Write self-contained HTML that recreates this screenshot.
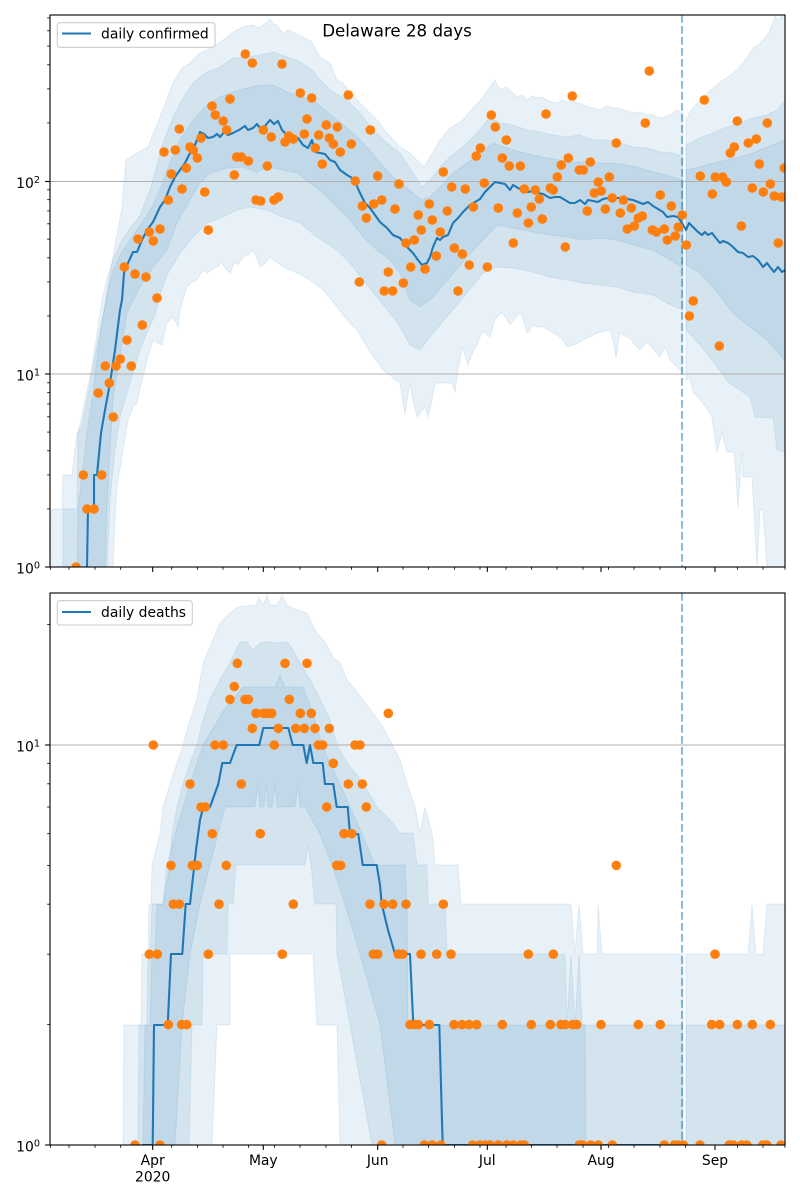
<!DOCTYPE html>
<html><head><meta charset="utf-8"><style>
html,body{margin:0;padding:0;background:#fff;}
svg{display:block;font-family:"DejaVu Sans","Liberation Sans",sans-serif;}
</style></head><body>
<svg width="800" height="1200" viewBox="0 0 800 1200" xmlns="http://www.w3.org/2000/svg">
<defs>
<clipPath id="ct"><rect x="50" y="15" width="735" height="552"/></clipPath>
<clipPath id="cb"><rect x="50" y="593" width="735" height="552"/></clipPath>
</defs>
<rect width="800" height="1200" fill="#fff"/>

<!-- ================= TOP AXES ================= -->
<g clip-path="url(#ct)">
<g fill="#1f77b4" fill-opacity="0.1" stroke="#1f77b4" stroke-opacity="0.1" stroke-width="1">
<!-- outer past -->
<polygon points="50,567 51,509 62,509 63,475 72,475 77,433 82,425 88,395 93,366 100,330 106,300 110,273 116,240 122,207 126,160 137,153 148,147 160,117 173,83 182,68 190,63 200,53 213,47 227,37 233,32 243,27 253,25 258,28 263,25 267,22 270,19 273,24 277,25 283,33 288,30 293,32 298,35 303,37 312,42 316,50 320,57 330,63 337,80 343,83 348,90 357,100 367,110 377,120 387,133 400,147 410,153 420,163 424,167 430,157 440,140 450,128 463,120 473,108 483,97 490,87 495,80 500,90 507,87 513,93 517,97 522,95 527,100 532,96 537,98 542,97 547,100 552,102 557,103 562,100 567,102 572,99 577,103 582,104 587,107 593,108 600,110 607,106 613,108 618,108 623,110 628,111 633,113 640,112 647,115 652,114 657,117 662,118 667,116 672,114 677,110 680,112 683,113 683,373 677,367 672,362 670,360 665,347 660,357 653,349 647,342 640,350 635,345 630,338 625,336 620,333 618,345 616,358 613,340 610,330 605,331 600,332 595,334 590,337 585,339 580,342 573,345 567,347 563,340 560,337 553,333 548,330 543,327 538,327 533,325 530,330 527,333 523,318 520,313 515,318 510,325 506,318 502,313 498,316 495,320 492,330 490,338 486,333 482,332 478,343 473,352 468,365 465,355 462,347 458,370 455,392 452,383 445,383 435,383 432,400 428,417 425,407 421,412 417,417 413,400 410,383 407,400 405,415 402,395 400,383 393,378 390,375 383,370 378,362 373,357 368,348 363,340 357,330 350,323 343,315 337,307 330,298 323,290 317,285 310,280 303,276 297,273 290,270 283,267 277,262 273,260 270,257 266,262 263,265 260,267 257,258 253,250 248,255 243,257 238,265 235,262 230,273 225,268 222,263 217,267 212,270 207,273 203,270 197,280 192,282 187,287 183,300 180,310 178,327 175,320 173,317 170,320 167,323 164,335 162,345 158,343 153,340 150,350 147,360 142,380 137,403 133,407 128,420 123,450 117,487 115,517 113,567"/>
<!-- outer forecast -->
<polygon points="686,120 690,112 693,108 698,103 703,97 708,93 713,88 718,84 723,80 728,77 733,73 738,69 743,63 748,56 753,48 758,45 763,40 767,35 770,30 773,22 775,16 778,20 781,17 785,15 785,567 767,567 763,510 760,510 757,567 752,477 743,477 742,452 738,508 735,460 733,452 727,452 722,433 717,452 712,417 708,410 703,403 698,397 693,392 690,378 686,380"/>
<!-- middle past -->
<polygon points="63,567 63,509 77,509 78,433 85,400 92,367 97,333 102,300 108,275 115,255 122,240 130,228 137,220 140,215 150,190 157,165 163,143 173,117 182,100 193,83 207,72 220,67 233,58 247,57 260,55 273,52 287,57 300,62 312,70 320,80 333,92 347,100 360,113 373,130 387,143 400,153 413,173 422,187 430,180 440,167 450,157 463,147 477,133 490,117 500,123 513,125 527,130 540,132 553,135 567,137 580,135 593,140 607,140 620,143 633,147 647,148 660,152 673,153 683,157 683,310 667,303 653,295 633,292 617,287 600,285 583,283 567,280 550,277 533,272 513,268 497,267 483,273 467,293 450,313 433,333 420,350 410,345 400,327 390,313 377,297 363,280 350,263 337,250 317,237 300,223 283,217 267,210 250,207 237,210 223,217 207,223 193,237 180,253 167,275 160,295 155,315 148,330 140,350 130,383 120,417 115,450 110,500 107,567"/>
<!-- middle forecast -->
<polygon points="686,145 700,138 713,133 727,127 740,123 753,118 767,115 777,110 785,100 785,452 777,450 773,418 755,417 750,397 728,382 712,360 700,345 686,330"/>
<!-- inner past -->
<polygon points="77,567 78,509 87,433 93,393 98,350 103,317 107,295 113,270 120,255 128,243 137,230 147,215 153,205 160,190 167,170 180,140 193,120 207,105 220,97 233,92 247,88 260,85 273,85 287,92 300,97 313,100 327,112 340,122 353,133 367,147 380,163 393,177 400,182 413,193 422,200 430,197 440,187 453,173 467,163 480,153 493,143 507,148 520,152 533,155 547,158 560,160 573,162 587,162 600,163 613,163 627,165 640,168 653,172 667,175 683,180 683,268 667,258 653,250 633,245 617,240 600,238 583,240 567,237 550,235 533,232 513,228 497,225 483,240 467,257 450,277 433,297 420,307 410,300 400,273 390,260 377,250 363,237 350,220 337,207 323,193 310,183 297,173 283,170 267,167 257,172 243,167 227,168 210,173 200,183 190,200 177,223 167,250 153,267 140,287 127,313 117,373 113,400 110,450 107,509 105,567"/>
<!-- inner forecast -->
<polygon points="686,170 700,167 713,163 727,160 740,157 753,153 767,147 785,140 785,361 767,340 750,327 733,313 717,292 700,273 686,265"/>
</g>
<!-- grid -->
<line x1="50" y1="181.5" x2="785" y2="181.5" stroke="#b0b0b0" stroke-width="1.1"/>
<line x1="50" y1="374" x2="785" y2="374" stroke="#b0b0b0" stroke-width="1.1"/>
<!-- median -->
<polyline fill="none" stroke="#1f77b4" stroke-width="2.08" stroke-linejoin="round" points="87,567 88,509 94,509 94,475 97,475 101,433 105,410 110,383 115,350 120,310 122,300 124,273 128,263 133,252 137,252 142,240 147,230 153,222 160,207 165,200 170,187 175,177 180,170 185,163 190,153 195,145 200,132 204,134 208,138 213,137 217,134 220,137 224,132 228,135 233,133 239,130 245,126 248,130 253,128 257,124 260,128 265,126 270,120 274,124 278,121 282,130 285,133 290,135 293,137 298,138 303,145 308,148 312,140 315,152 320,153 325,154 330,160 335,162 340,170 347,175 352,178 355,182 360,193 365,203 370,208 375,215 380,222 387,228 393,235 400,238 407,247 413,253 418,260 422,265 427,263 430,257 433,247 437,238 440,240 443,237 448,235 453,223 458,218 463,212 470,205 475,202 480,199 485,192 490,187 495,182 500,183 505,184 510,190 513,185 518,188 523,190 528,192 533,191 538,193 543,194 550,198 555,197 560,197 565,200 570,203 575,203 580,200 585,204 588,200 593,201 598,202 603,199 608,198 613,198 620,198 627,199 633,200 638,202 643,204 648,202 653,206 658,209 663,212 667,217 673,216 678,217 682,223 686,230 689,223 693,227 698,232 702,235 705,232 708,235 712,233 715,237 720,243 723,241 728,243 733,247 738,252 743,253 748,257 753,256 758,260 763,267 767,263 770,267 774,272 778,267 782,272 785,270"/>
<!-- vline -->
<line x1="682" y1="15" x2="682" y2="567" stroke="#1f77b4" stroke-opacity="0.5" stroke-width="2.08" stroke-dasharray="7.7 3.3"/>
<!-- dots -->
<g fill="#ff7f0e">
<circle cx="76" cy="567" r="4.8"/><circle cx="83.3" cy="475" r="4.8"/><circle cx="87" cy="509" r="4.8"/><circle cx="94" cy="509" r="4.8"/><circle cx="98.3" cy="393" r="4.8"/><circle cx="101.7" cy="475" r="4.8"/><circle cx="105.3" cy="366" r="4.8"/><circle cx="109.3" cy="383" r="4.8"/><circle cx="113.3" cy="417" r="4.8"/><circle cx="116" cy="366" r="4.8"/><circle cx="120.3" cy="359" r="4.8"/><circle cx="124.3" cy="267" r="4.8"/><circle cx="127" cy="340" r="4.8"/><circle cx="131.3" cy="366" r="4.8"/><circle cx="135" cy="274" r="4.8"/><circle cx="138" cy="239" r="4.8"/><circle cx="142.3" cy="325" r="4.8"/><circle cx="146" cy="277" r="4.8"/><circle cx="149.3" cy="232" r="4.8"/><circle cx="153.3" cy="241" r="4.8"/><circle cx="157" cy="298" r="4.8"/><circle cx="160" cy="229" r="4.8"/><circle cx="164" cy="152" r="4.8"/><circle cx="168.3" cy="200" r="4.8"/><circle cx="171.3" cy="174" r="4.8"/><circle cx="175.3" cy="150" r="4.8"/><circle cx="179.3" cy="129" r="4.8"/><circle cx="182" cy="189" r="4.8"/><circle cx="186.3" cy="168" r="4.8"/><circle cx="190" cy="147" r="4.8"/><circle cx="193.3" cy="150" r="4.8"/><circle cx="197.3" cy="158" r="4.8"/><circle cx="201" cy="138" r="4.8"/><circle cx="204.7" cy="192" r="4.8"/><circle cx="208.3" cy="230" r="4.8"/><circle cx="212" cy="106" r="4.8"/><circle cx="215.3" cy="115" r="4.8"/><circle cx="223.3" cy="121" r="4.8"/><circle cx="226.7" cy="130" r="4.8"/><circle cx="230" cy="99" r="4.8"/><circle cx="234.3" cy="175" r="4.8"/><circle cx="236.7" cy="157" r="4.8"/><circle cx="241.3" cy="157" r="4.8"/><circle cx="245.3" cy="54" r="4.8"/><circle cx="248.3" cy="161" r="4.8"/><circle cx="252.3" cy="63" r="4.8"/><circle cx="256" cy="200" r="4.8"/><circle cx="260.7" cy="201" r="4.8"/><circle cx="263.3" cy="130" r="4.8"/><circle cx="267.3" cy="166" r="4.8"/><circle cx="271.3" cy="137" r="4.8"/><circle cx="274" cy="200" r="4.8"/><circle cx="278.3" cy="197" r="4.8"/><circle cx="282" cy="64" r="4.8"/><circle cx="285" cy="142" r="4.8"/><circle cx="288.7" cy="136" r="4.8"/><circle cx="293.3" cy="139" r="4.8"/><circle cx="300.3" cy="93" r="4.8"/><circle cx="304.3" cy="134" r="4.8"/><circle cx="307" cy="119" r="4.8"/><circle cx="311.7" cy="98" r="4.8"/><circle cx="315.3" cy="148" r="4.8"/><circle cx="318.7" cy="135" r="4.8"/><circle cx="322.3" cy="164" r="4.8"/><circle cx="326.3" cy="125" r="4.8"/><circle cx="329.3" cy="138" r="4.8"/><circle cx="333.3" cy="144" r="4.8"/><circle cx="337.3" cy="127" r="4.8"/><circle cx="340.3" cy="152" r="4.8"/><circle cx="348.3" cy="95" r="4.8"/><circle cx="351.3" cy="144" r="4.8"/><circle cx="355.3" cy="181" r="4.8"/><circle cx="359.3" cy="282" r="4.8"/><circle cx="362.3" cy="206" r="4.8"/><circle cx="366.3" cy="218" r="4.8"/><circle cx="370.3" cy="130" r="4.8"/><circle cx="373.7" cy="204" r="4.8"/><circle cx="377.7" cy="176" r="4.8"/><circle cx="381.7" cy="200" r="4.8"/><circle cx="384.3" cy="291" r="4.8"/><circle cx="388.3" cy="272" r="4.8"/><circle cx="392.7" cy="291" r="4.8"/><circle cx="395" cy="209" r="4.8"/><circle cx="399" cy="184" r="4.8"/>
<circle cx="403.3" cy="283" r="4.8"/><circle cx="406" cy="243" r="4.8"/><circle cx="410.7" cy="267" r="4.8"/><circle cx="414.3" cy="240" r="4.8"/><circle cx="418.3" cy="215" r="4.8"/><circle cx="421.3" cy="230" r="4.8"/><circle cx="425" cy="269" r="4.8"/><circle cx="429.3" cy="204" r="4.8"/><circle cx="432.3" cy="220" r="4.8"/><circle cx="436.3" cy="256" r="4.8"/><circle cx="440.3" cy="232" r="4.8"/><circle cx="443.3" cy="172" r="4.8"/><circle cx="447.3" cy="211" r="4.8"/><circle cx="451.7" cy="187" r="4.8"/><circle cx="454.3" cy="248" r="4.8"/><circle cx="458" cy="291" r="4.8"/><circle cx="462.3" cy="254" r="4.8"/><circle cx="465.3" cy="189" r="4.8"/><circle cx="469.3" cy="265" r="4.8"/><circle cx="473.3" cy="207" r="4.8"/><circle cx="476.3" cy="156" r="4.8"/><circle cx="480.3" cy="148" r="4.8"/><circle cx="484.3" cy="183" r="4.8"/><circle cx="487.3" cy="267" r="4.8"/><circle cx="491.3" cy="115" r="4.8"/><circle cx="495.3" cy="127" r="4.8"/><circle cx="498.3" cy="208" r="4.8"/><circle cx="502.3" cy="158" r="4.8"/><circle cx="506.3" cy="140" r="4.8"/><circle cx="509.3" cy="166" r="4.8"/><circle cx="513.3" cy="243" r="4.8"/><circle cx="517.3" cy="213" r="4.8"/><circle cx="520.3" cy="166" r="4.8"/><circle cx="524.3" cy="189" r="4.8"/><circle cx="528.3" cy="223" r="4.8"/><circle cx="531.3" cy="207" r="4.8"/><circle cx="535.3" cy="190" r="4.8"/><circle cx="539.3" cy="199" r="4.8"/><circle cx="542.3" cy="219" r="4.8"/><circle cx="546" cy="114" r="4.8"/><circle cx="550.3" cy="188" r="4.8"/><circle cx="553.3" cy="190" r="4.8"/><circle cx="557.3" cy="177" r="4.8"/><circle cx="561.3" cy="165" r="4.8"/><circle cx="565.3" cy="247" r="4.8"/><circle cx="568.3" cy="158" r="4.8"/><circle cx="572.3" cy="96" r="4.8"/><circle cx="579.3" cy="170" r="4.8"/><circle cx="583.3" cy="170" r="4.8"/><circle cx="587.3" cy="211" r="4.8"/><circle cx="590.3" cy="162" r="4.8"/><circle cx="594.3" cy="193" r="4.8"/><circle cx="598.3" cy="182" r="4.8"/><circle cx="601.3" cy="191" r="4.8"/><circle cx="605.3" cy="209" r="4.8"/><circle cx="609.3" cy="177" r="4.8"/><circle cx="612.3" cy="198" r="4.8"/><circle cx="616.3" cy="143" r="4.8"/><circle cx="620.3" cy="213" r="4.8"/><circle cx="623.3" cy="200" r="4.8"/><circle cx="627.3" cy="229" r="4.8"/><circle cx="631.3" cy="208" r="4.8"/><circle cx="634.3" cy="226" r="4.8"/><circle cx="638.3" cy="218" r="4.8"/><circle cx="642.3" cy="216" r="4.8"/><circle cx="645.3" cy="123" r="4.8"/><circle cx="649.3" cy="71" r="4.8"/><circle cx="652.3" cy="230" r="4.8"/><circle cx="656.3" cy="232" r="4.8"/><circle cx="660.3" cy="195" r="4.8"/><circle cx="664.3" cy="229" r="4.8"/><circle cx="667.3" cy="240" r="4.8"/><circle cx="671.3" cy="206" r="4.8"/><circle cx="675.3" cy="236" r="4.8"/><circle cx="678.3" cy="227" r="4.8"/><circle cx="682.3" cy="215" r="4.8"/><circle cx="686.3" cy="245" r="4.8"/><circle cx="689.3" cy="316" r="4.8"/><circle cx="693.3" cy="301" r="4.8"/><circle cx="700.3" cy="176" r="4.8"/><circle cx="704.3" cy="100" r="4.8"/><circle cx="712.3" cy="194" r="4.8"/><circle cx="715.3" cy="177" r="4.8"/><circle cx="719.3" cy="346" r="4.8"/><circle cx="722.7" cy="177" r="4.8"/><circle cx="726.3" cy="182" r="4.8"/><circle cx="730.3" cy="153" r="4.8"/><circle cx="734.3" cy="147" r="4.8"/><circle cx="737.3" cy="121" r="4.8"/><circle cx="741.3" cy="226" r="4.8"/><circle cx="748.3" cy="143" r="4.8"/><circle cx="752.3" cy="188" r="4.8"/><circle cx="756.3" cy="139" r="4.8"/><circle cx="759.3" cy="164" r="4.8"/><circle cx="763.3" cy="192" r="4.8"/><circle cx="767.3" cy="123" r="4.8"/><circle cx="770.3" cy="184" r="4.8"/><circle cx="774.3" cy="196" r="4.8"/><circle cx="778.3" cy="243" r="4.8"/><circle cx="781.7" cy="197" r="4.8"/><circle cx="784.3" cy="168" r="4.8"/>
</g>
</g>
<!-- title -->
<text x="397" y="36.5" font-size="16.67" text-anchor="middle" fill="#000">Delaware 28 days</text>
<!-- legend top -->
<rect x="57.3" y="22.7" width="157.7" height="24.6" rx="2.8" fill="#fff" fill-opacity="0.8" stroke="#cccccc" stroke-width="1.1"/>
<line x1="62" y1="33.5" x2="91" y2="33.5" stroke="#1f77b4" stroke-width="2.08"/>
<text x="101" y="38.5" font-size="13.9" fill="#000">daily confirmed</text>
<!-- top spines -->
<rect x="50" y="15" width="735" height="552" fill="none" stroke="#000" stroke-width="1.1"/>
<!-- top y ticks -->
<g stroke="#000" stroke-width="1.1">
<line x1="45.1" y1="567" x2="50" y2="567"/><line x1="45.1" y1="374" x2="50" y2="374"/><line x1="45.1" y1="181.5" x2="50" y2="181.5"/>
</g>
<g stroke="#000" stroke-width="0.83">
<line x1="47.2" y1="508.9" x2="50" y2="508.9"/><line x1="47.2" y1="474.9" x2="50" y2="474.9"/><line x1="47.2" y1="450.8" x2="50" y2="450.8"/><line x1="47.2" y1="432.1" x2="50" y2="432.1"/><line x1="47.2" y1="416.8" x2="50" y2="416.8"/><line x1="47.2" y1="403.9" x2="50" y2="403.9"/><line x1="47.2" y1="392.7" x2="50" y2="392.7"/><line x1="47.2" y1="382.8" x2="50" y2="382.8"/>
<line x1="47.2" y1="315.9" x2="50" y2="315.9"/><line x1="47.2" y1="281.9" x2="50" y2="281.9"/><line x1="47.2" y1="257.8" x2="50" y2="257.8"/><line x1="47.2" y1="239.1" x2="50" y2="239.1"/><line x1="47.2" y1="223.8" x2="50" y2="223.8"/><line x1="47.2" y1="210.9" x2="50" y2="210.9"/><line x1="47.2" y1="199.7" x2="50" y2="199.7"/><line x1="47.2" y1="189.8" x2="50" y2="189.8"/>
<line x1="47.2" y1="122.9" x2="50" y2="122.9"/><line x1="47.2" y1="88.9" x2="50" y2="88.9"/><line x1="47.2" y1="64.8" x2="50" y2="64.8"/><line x1="47.2" y1="46.1" x2="50" y2="46.1"/><line x1="47.2" y1="30.8" x2="50" y2="30.8"/><line x1="47.2" y1="17.9" x2="50" y2="17.9"/>
</g>
<g font-size="13.9" fill="#000" text-anchor="end">
<text x="40" y="573.5">10<tspan font-size="9.7" dy="-5">0</tspan></text>
<text x="40" y="380.5">10<tspan font-size="9.7" dy="-5">1</tspan></text>
<text x="40" y="188">10<tspan font-size="9.7" dy="-5">2</tspan></text>
</g>
<!-- top x ticks -->
<g stroke="#000" stroke-width="1.1">
<line x1="152.7" y1="567" x2="152.7" y2="571.9"/><line x1="263.3" y1="567" x2="263.3" y2="571.9"/><line x1="377.7" y1="567" x2="377.7" y2="571.9"/><line x1="487.3" y1="567" x2="487.3" y2="571.9"/><line x1="601" y1="567" x2="601" y2="571.9"/><line x1="715" y1="567" x2="715" y2="571.9"/>
</g>
<g stroke="#000" stroke-width="0.83">
<line x1="50.5" y1="567" x2="50.5" y2="569.8"/><line x1="69" y1="567" x2="69" y2="569.8"/><line x1="95" y1="567" x2="95" y2="569.8"/><line x1="120.7" y1="567" x2="120.7" y2="569.8"/><line x1="171.7" y1="567" x2="171.7" y2="569.8"/><line x1="197.5" y1="567" x2="197.5" y2="569.8"/><line x1="223" y1="567" x2="223" y2="569.8"/><line x1="248.5" y1="567" x2="248.5" y2="569.8"/><line x1="274.5" y1="567" x2="274.5" y2="569.8"/><line x1="300" y1="567" x2="300" y2="569.8"/><line x1="326" y1="567" x2="326" y2="569.8"/><line x1="351.5" y1="567" x2="351.5" y2="569.8"/><line x1="403" y1="567" x2="403" y2="569.8"/><line x1="428.5" y1="567" x2="428.5" y2="569.8"/><line x1="454.5" y1="567" x2="454.5" y2="569.8"/><line x1="480" y1="567" x2="480" y2="569.8"/><line x1="506" y1="567" x2="506" y2="569.8"/><line x1="531.5" y1="567" x2="531.5" y2="569.8"/><line x1="557" y1="567" x2="557" y2="569.8"/><line x1="583" y1="567" x2="583" y2="569.8"/><line x1="608.5" y1="567" x2="608.5" y2="569.8"/><line x1="634" y1="567" x2="634" y2="569.8"/><line x1="660" y1="567" x2="660" y2="569.8"/><line x1="685.5" y1="567" x2="685.5" y2="569.8"/><line x1="737.5" y1="567" x2="737.5" y2="569.8"/><line x1="763" y1="567" x2="763" y2="569.8"/><line x1="785" y1="567" x2="785" y2="569.8"/>
</g>

<!-- ================= BOTTOM AXES ================= -->
<g clip-path="url(#cb)">
<g fill="#1f77b4" fill-opacity="0.1" stroke="#1f77b4" stroke-opacity="0.1" stroke-width="1">
<polygon points="123,1145 124,1025 141,1025 142,954 148,954 149,904 151,904 152,865 160,834 163,807 170,784 177,763 183,745 190,720 197,699 203,663 210,647 220,623 230,613 238,607 256,605 259,598 263,605 267,595 270,605 277,605 282,595 287,605 293,608 307,613 315,630 325,642 333,657 340,663 347,680 353,687 363,700 373,713 383,727 400,760 407,783 415,807 420,833 425,807 432,833 435,865 458,865 461,904 571,904 575,954 579,904 583,954 597,954 598,904 602,954 683,954 683,1145 340,1145 337,1025 317,1025 313,954 230,954 230,1025 217,1025 212,1145"/>
<polygon points="686,954 748,954 752,904 756,954 763,954 767,904 785,904 785,1145 686,1145"/>
<polygon points="138,1145 139,1025 147,1025 148,954 150,954 152,904 163,904 170,865 172,834 177,807 183,784 190,763 197,745 203,720 210,699 220,680 230,663 240,642 247,642 253,650 260,643 267,642 277,643 287,642 293,650 300,663 310,680 320,699 330,720 337,745 347,763 357,775 367,790 377,807 390,820 400,833 413,833 417,865 427,865 428,904 445,904 447,954 565,954 567,1025 571,954 575,1025 579,954 582,1025 683,1025 683,1145 372,1145 350,1025 337,954 336,904 315,904 311,865 308,845 305,865 236,865 233,904 228,904 227,954 203,954 202,1025 192,1025 189,1145"/>
<polygon points="686,1025 785,1025 785,1145 686,1145"/>
<polygon points="143,1145 145,1025 150,1025 152,954 155,954 157,904 163,904 167,865 175,834 183,807 190,784 197,763 203,745 213,728 222,713 233,699 243,687 275,687 280,675 285,687 303,687 313,713 322,745 330,763 340,784 350,807 362,834 375,865 405,865 407,904 408,1025 585,1025 586,1145 395,1145 380,1025 360,954 345,904 332,865 320,834 305,807 300,807 298,784 295,807 277,807 275,784 272,807 268,807 266,784 264,807 260,807 258,784 255,807 225,807 218,834 210,865 200,904 190,954 182,1025 175,1145"/>
</g>
<line x1="50" y1="745" x2="785" y2="745" stroke="#b0b0b0" stroke-width="1.1"/>
<polyline fill="none" stroke="#1f77b4" stroke-width="2.08" stroke-linejoin="round" points="142,1145 152.7,1145 154,1025 167.7,1025 171,954 182.3,954 185.7,904 190,904 196,850 200,820 203.3,807 210,807 218.3,784 222.3,763 230,763 236.7,745 259.3,745 263.3,728 288.3,728 292.7,745 303.3,745 306.7,763 310,745 313.3,763 322.7,763 325,784 333.3,784 336.7,807 347.7,807 350,834 358.3,834 362.7,865 376.7,865 380,885 381.7,904 388,930 395,954 410,954 413.3,1025 439.3,1025 442.7,1145 683,1145"/>
<line x1="682" y1="593" x2="682" y2="1145" stroke="#1f77b4" stroke-opacity="0.5" stroke-width="2.08" stroke-dasharray="7.7 3.3"/>
<g fill="#ff7f0e">
<!-- v1 -->
<circle cx="135" cy="1145" r="4.8"/><circle cx="160" cy="1145" r="4.8"/><circle cx="381.7" cy="1145" r="4.8"/><circle cx="424.3" cy="1145" r="4.8"/><circle cx="432.3" cy="1145" r="4.8"/><circle cx="440.7" cy="1145" r="4.8"/><circle cx="472.7" cy="1145" r="4.8"/><circle cx="480" cy="1145" r="4.8"/><circle cx="485.7" cy="1145" r="4.8"/><circle cx="490" cy="1145" r="4.8"/><circle cx="498.3" cy="1145" r="4.8"/><circle cx="506.7" cy="1145" r="4.8"/><circle cx="513.3" cy="1145" r="4.8"/><circle cx="520.7" cy="1145" r="4.8"/><circle cx="524.3" cy="1145" r="4.8"/><circle cx="579.3" cy="1145" r="4.8"/><circle cx="582.7" cy="1145" r="4.8"/><circle cx="590.7" cy="1145" r="4.8"/><circle cx="598.3" cy="1145" r="4.8"/><circle cx="612.3" cy="1145" r="4.8"/><circle cx="664.3" cy="1145" r="4.8"/><circle cx="674.3" cy="1145" r="4.8"/><circle cx="678.3" cy="1145" r="4.8"/><circle cx="683.3" cy="1145" r="4.8"/><circle cx="700" cy="1145" r="4.8"/><circle cx="729.3" cy="1145" r="4.8"/><circle cx="733.3" cy="1145" r="4.8"/><circle cx="741.7" cy="1145" r="4.8"/><circle cx="746.7" cy="1145" r="4.8"/><circle cx="762.7" cy="1145" r="4.8"/><circle cx="766.7" cy="1145" r="4.8"/><circle cx="781" cy="1145" r="4.8"/>
<!-- v2 -->
<circle cx="168.3" cy="1024.6" r="4.8"/><circle cx="181.7" cy="1024.6" r="4.8"/><circle cx="186.7" cy="1024.6" r="4.8"/><circle cx="410" cy="1024.6" r="4.8"/><circle cx="415" cy="1024.6" r="4.8"/><circle cx="418.3" cy="1024.6" r="4.8"/><circle cx="429.3" cy="1024.6" r="4.8"/><circle cx="454" cy="1024.6" r="4.8"/><circle cx="462" cy="1024.6" r="4.8"/><circle cx="469" cy="1024.6" r="4.8"/><circle cx="476.7" cy="1024.6" r="4.8"/><circle cx="502.3" cy="1024.6" r="4.8"/><circle cx="531.3" cy="1024.6" r="4.8"/><circle cx="550.3" cy="1024.6" r="4.8"/><circle cx="561" cy="1024.6" r="4.8"/><circle cx="565" cy="1024.6" r="4.8"/><circle cx="572.7" cy="1024.6" r="4.8"/><circle cx="576.7" cy="1024.6" r="4.8"/><circle cx="601" cy="1024.6" r="4.8"/><circle cx="638.3" cy="1024.6" r="4.8"/><circle cx="660.3" cy="1024.6" r="4.8"/><circle cx="711.7" cy="1024.6" r="4.8"/><circle cx="719.7" cy="1024.6" r="4.8"/><circle cx="737.3" cy="1024.6" r="4.8"/><circle cx="752.3" cy="1024.6" r="4.8"/><circle cx="770.3" cy="1024.6" r="4.8"/>
<!-- v3 -->
<circle cx="149.3" cy="954.2" r="4.8"/><circle cx="157.3" cy="954.2" r="4.8"/><circle cx="208.3" cy="954.2" r="4.8"/><circle cx="282.3" cy="954.2" r="4.8"/><circle cx="373.3" cy="954.2" r="4.8"/><circle cx="377.7" cy="954.2" r="4.8"/><circle cx="398.3" cy="954.2" r="4.8"/><circle cx="402.7" cy="954.2" r="4.8"/><circle cx="421" cy="954.2" r="4.8"/><circle cx="436.7" cy="954.2" r="4.8"/><circle cx="451" cy="954.2" r="4.8"/><circle cx="528.3" cy="954.2" r="4.8"/><circle cx="553.3" cy="954.2" r="4.8"/><circle cx="715" cy="954.2" r="4.8"/>
<!-- v4 -->
<circle cx="173.3" cy="904.2" r="4.8"/><circle cx="179.3" cy="904.2" r="4.8"/><circle cx="219" cy="904.2" r="4.8"/><circle cx="293.3" cy="904.2" r="4.8"/><circle cx="370" cy="904.2" r="4.8"/><circle cx="384" cy="904.2" r="4.8"/><circle cx="392.7" cy="904.2" r="4.8"/><circle cx="406" cy="904.2" r="4.8"/><circle cx="443.3" cy="904.2" r="4.8"/>
<!-- v5 -->
<circle cx="171" cy="865.4" r="4.8"/><circle cx="192.3" cy="865.4" r="4.8"/><circle cx="197.3" cy="865.4" r="4.8"/><circle cx="226.3" cy="865.4" r="4.8"/><circle cx="336.7" cy="865.4" r="4.8"/><circle cx="340.7" cy="865.4" r="4.8"/><circle cx="616.3" cy="865.4" r="4.8"/>
<!-- v6 -->
<circle cx="212.3" cy="833.7" r="4.8"/><circle cx="260.3" cy="833.7" r="4.8"/><circle cx="344" cy="833.7" r="4.8"/><circle cx="351.7" cy="833.7" r="4.8"/>
<!-- v7 -->
<circle cx="201" cy="807" r="4.8"/><circle cx="205.3" cy="807" r="4.8"/><circle cx="326.7" cy="807" r="4.8"/><circle cx="366.3" cy="807" r="4.8"/>
<!-- v8 -->
<circle cx="190" cy="784" r="4.8"/><circle cx="241.3" cy="784" r="4.8"/><circle cx="348.3" cy="784" r="4.8"/><circle cx="362.3" cy="784" r="4.8"/>
<!-- v9 -->
<circle cx="333.3" cy="763.3" r="4.8"/>
<!-- v10 -->
<circle cx="153.3" cy="745" r="4.8"/><circle cx="215" cy="745" r="4.8"/><circle cx="223.3" cy="745" r="4.8"/><circle cx="274.3" cy="745" r="4.8"/><circle cx="318.3" cy="745" r="4.8"/><circle cx="322.7" cy="745" r="4.8"/><circle cx="355" cy="745" r="4.8"/><circle cx="360" cy="745" r="4.8"/>
<!-- v11 -->
<circle cx="252.3" cy="728.4" r="4.8"/><circle cx="278.3" cy="728.4" r="4.8"/><circle cx="295.7" cy="728.4" r="4.8"/><circle cx="304.3" cy="728.4" r="4.8"/><circle cx="315" cy="728.4" r="4.8"/><circle cx="329.3" cy="728.4" r="4.8"/>
<!-- v12 -->
<circle cx="256" cy="713.3" r="4.8"/><circle cx="263.3" cy="713.3" r="4.8"/><circle cx="267.7" cy="713.3" r="4.8"/><circle cx="271.7" cy="713.3" r="4.8"/><circle cx="300.3" cy="713.3" r="4.8"/><circle cx="311.3" cy="713.3" r="4.8"/><circle cx="388.3" cy="713.3" r="4.8"/>
<!-- v13 -->
<circle cx="230" cy="699.4" r="4.8"/><circle cx="245" cy="699.4" r="4.8"/><circle cx="248.3" cy="699.4" r="4.8"/><circle cx="289.3" cy="699.4" r="4.8"/>
<!-- v14, v16 -->
<circle cx="234.3" cy="686.5" r="4.8"/>
<circle cx="237.3" cy="663.3" r="4.8"/><circle cx="285" cy="663.3" r="4.8"/><circle cx="307" cy="663.3" r="4.8"/>
</g>
</g>
<!-- legend bottom -->
<rect x="57.3" y="600.7" width="135" height="24.3" rx="2.8" fill="#fff" fill-opacity="0.8" stroke="#cccccc" stroke-width="1.1"/>
<line x1="62" y1="612" x2="91" y2="612" stroke="#1f77b4" stroke-width="2.08"/>
<text x="101" y="617" font-size="13.9" fill="#000">daily deaths</text>
<!-- bottom spines -->
<rect x="50" y="593" width="735" height="552" fill="none" stroke="#000" stroke-width="1.1"/>
<g stroke="#000" stroke-width="1.1">
<line x1="45.1" y1="1145" x2="50" y2="1145"/><line x1="45.1" y1="745" x2="50" y2="745"/>
</g>
<g stroke="#000" stroke-width="0.83">
<line x1="47.2" y1="1024.6" x2="50" y2="1024.6"/><line x1="47.2" y1="954.2" x2="50" y2="954.2"/><line x1="47.2" y1="904.2" x2="50" y2="904.2"/><line x1="47.2" y1="865.4" x2="50" y2="865.4"/><line x1="47.2" y1="833.7" x2="50" y2="833.7"/><line x1="47.2" y1="807" x2="50" y2="807"/><line x1="47.2" y1="783.8" x2="50" y2="783.8"/><line x1="47.2" y1="763.3" x2="50" y2="763.3"/><line x1="47.2" y1="624.6" x2="50" y2="624.6"/>
</g>
<g font-size="13.9" fill="#000" text-anchor="end">
<text x="40" y="1151.5">10<tspan font-size="9.7" dy="-5">0</tspan></text>
<text x="40" y="751.5">10<tspan font-size="9.7" dy="-5">1</tspan></text>
</g>
<!-- bottom x ticks -->
<g stroke="#000" stroke-width="1.1">
<line x1="152.7" y1="1145" x2="152.7" y2="1149.9"/><line x1="263.3" y1="1145" x2="263.3" y2="1149.9"/><line x1="377.7" y1="1145" x2="377.7" y2="1149.9"/><line x1="487.3" y1="1145" x2="487.3" y2="1149.9"/><line x1="601" y1="1145" x2="601" y2="1149.9"/><line x1="715" y1="1145" x2="715" y2="1149.9"/>
</g>
<g stroke="#000" stroke-width="0.83">
<line x1="50.5" y1="1145" x2="50.5" y2="1147.8"/><line x1="69" y1="1145" x2="69" y2="1147.8"/><line x1="95" y1="1145" x2="95" y2="1147.8"/><line x1="120.7" y1="1145" x2="120.7" y2="1147.8"/><line x1="171.7" y1="1145" x2="171.7" y2="1147.8"/><line x1="197.5" y1="1145" x2="197.5" y2="1147.8"/><line x1="223" y1="1145" x2="223" y2="1147.8"/><line x1="248.5" y1="1145" x2="248.5" y2="1147.8"/><line x1="274.5" y1="1145" x2="274.5" y2="1147.8"/><line x1="300" y1="1145" x2="300" y2="1147.8"/><line x1="326" y1="1145" x2="326" y2="1147.8"/><line x1="351.5" y1="1145" x2="351.5" y2="1147.8"/><line x1="403" y1="1145" x2="403" y2="1147.8"/><line x1="428.5" y1="1145" x2="428.5" y2="1147.8"/><line x1="454.5" y1="1145" x2="454.5" y2="1147.8"/><line x1="480" y1="1145" x2="480" y2="1147.8"/><line x1="506" y1="1145" x2="506" y2="1147.8"/><line x1="531.5" y1="1145" x2="531.5" y2="1147.8"/><line x1="557" y1="1145" x2="557" y2="1147.8"/><line x1="583" y1="1145" x2="583" y2="1147.8"/><line x1="608.5" y1="1145" x2="608.5" y2="1147.8"/><line x1="634" y1="1145" x2="634" y2="1147.8"/><line x1="660" y1="1145" x2="660" y2="1147.8"/><line x1="685.5" y1="1145" x2="685.5" y2="1147.8"/><line x1="737.5" y1="1145" x2="737.5" y2="1147.8"/><line x1="763" y1="1145" x2="763" y2="1147.8"/><line x1="785" y1="1145" x2="785" y2="1147.8"/>
</g>
<g font-size="13.9" fill="#000" text-anchor="middle">
<text x="152.7" y="1165">Apr</text>
<text x="152.7" y="1181.7">2020</text>
<text x="263.3" y="1165">May</text>
<text x="377.7" y="1165">Jun</text>
<text x="487.3" y="1165">Jul</text>
<text x="601" y="1165">Aug</text>
<text x="715" y="1165">Sep</text>
</g>
</svg>
</body></html>
